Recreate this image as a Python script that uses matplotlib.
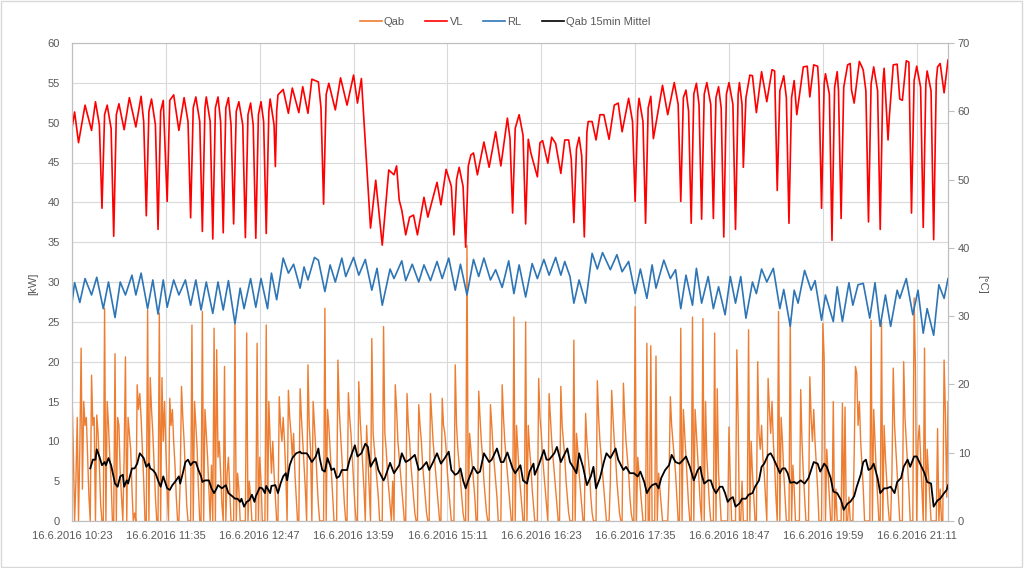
import numpy as np
import matplotlib
matplotlib.use('Agg')
from matplotlib import pyplot as plt
from matplotlib.lines import Line2D

plt.rcParams['font.family'] = ['Liberation Sans', 'DejaVu Sans']

# x = minutes after 16.6.2016 10:23
tick_min = [0, 72, 144, 216, 288, 360, 432, 504, 576, 648]
tick_labels = ['16.6.2016 10:23', '16.6.2016 11:35', '16.6.2016 12:47', '16.6.2016 13:59',
               '16.6.2016 15:11', '16.6.2016 16:23', '16.6.2016 17:35', '16.6.2016 18:47',
               '16.6.2016 19:59', '16.6.2016 21:11']

# Qab [kW], one value per minute
qab = [
    16.0, 9, 0, 5, 13, 0, 9, 21.7, 4, 15,
    12, 13, 8, 3, 0, 18.3, 12, 13, 0, 13.3,
    11, 7, 2, 0, 0, 26.7, 0, 15, 12, 8,
    5, 0, 0, 21.0, 0, 13, 12, 6, 3, 0,
    8, 20.6, 0, 13, 11, 9, 4, 0, 1, 0,
    17.1, 14, 16, 13, 9, 5, 0, 0, 26.5, 0,
    18, 14, 11, 7, 3, 0, 0, 26.1, 0, 18,
    10, 15, 9, 4, 0, 15.4, 12, 14, 10, 7,
    3, 0, 0, 5, 16.9, 13, 10, 6, 2, 0,
    0, 0, 24.6, 0, 15, 12, 9, 4, 0, 0,
    26.3, 0, 14, 11, 8, 4, 0, 7, 0, 24.2,
    0, 21.5, 8, 10, 6, 2, 0, 19.4, 0, 6,
    8, 4, 0, 0, 0, 24.8, 0, 6, 4, 0,
    0, 0, 0, 0, 23.6, 0, 5, 3, 0, 0,
    0, 0, 22.3, 0, 8, 5, 0, 0, 0, 24.6,
    0, 15, 10, 6, 10, 6, 3, 0, 0, 15.6,
    12, 10, 13, 10, 6, 0, 16.4, 13, 11, 8,
    11, 6, 3, 0, 0, 16.6, 13, 10, 7, 4,
    0, 19.6, 12, 9, 0, 15, 12, 9, 5, 2,
    0, 0, 0, 0, 26.7, 0, 14, 12, 9, 6,
    3, 0, 0, 0, 20.2, 14, 11, 8, 5, 2,
    0, 0, 16.1, 13, 11, 8, 5, 2, 0, 0,
    17.5, 13, 10, 7, 4, 0, 12, 8, 4, 0,
    22.9, 11, 9, 7, 5, 3, 0, 0, 0, 24.4,
    11, 9, 6, 4, 2, 0, 5, 0, 17.1, 14,
    10, 8, 6, 4, 2, 0, 0, 16.0, 12, 10,
    7, 5, 3, 1, 0, 0, 14.6, 12, 10, 7,
    5, 3, 1, 0, 0, 16.0, 13, 10, 8, 6,
    4, 2, 0, 0, 15.4, 12, 11, 9, 6, 4,
    2, 0, 0, 0, 19.6, 12, 9, 7, 5, 3,
    1, 0, 0, 34.6, 0, 11, 9, 7, 5, 3,
    0, 0, 16.3, 13, 10, 8, 5, 3, 1, 0,
    0, 14.6, 12, 9, 7, 5, 3, 0, 0, 0,
    17.1, 13, 10, 8, 6, 4, 2, 0, 0, 25.6,
    0, 12, 9, 6, 4, 2, 0, 0, 25.0, 0,
    12, 9, 7, 4, 2, 0, 0, 0, 17.9, 13,
    11, 8, 6, 4, 2, 0, 16.0, 13, 10, 8,
    6, 4, 2, 0, 0, 16.9, 12, 10, 8, 5,
    3, 1, 0, 0, 0, 22.7, 0, 11, 9, 6,
    4, 2, 0, 0, 13.5, 10, 8, 6, 3, 1,
    0, 0, 0, 17.6, 13, 10, 8, 6, 4, 2,
    0, 0, 0, 5, 16.4, 13, 10, 8, 5, 3,
    1, 0, 0, 17.3, 13, 10, 8, 6, 3, 1,
    0, 0, 26.9, 0, 8, 6, 4, 2, 0, 0,
    0, 22.3, 0, 0, 22.0, 0, 0, 0, 20.7, 0,
    6, 4, 2, 0, 0, 0, 0, 0, 5, 15.6,
    12, 10, 8, 6, 3, 0, 0, 24.2, 0, 14,
    11, 8, 5, 2, 0, 0, 25.6, 0, 14, 11,
    8, 5, 2, 0, 25.4, 0, 15, 8, 5, 2,
    0, 0, 0, 23.6, 0, 16.6, 6, 3, 0, 0,
    0, 0, 0, 0, 11.8, 5, 0, 0, 0, 0,
    21.5, 12.8, 0, 0, 5, 0, 0, 0, 0, 24.0,
    0, 10, 6, 3, 0, 0, 20.0, 11, 9, 12,
    8, 6, 3, 0, 17.9, 14, 11, 15, 10, 7,
    3, 0, 26.3, 0, 13, 10, 6, 3, 0, 0,
    0, 25.4, 0, 7, 4, 0, 0, 0, 0, 16.5,
    10, 6, 3, 0, 0, 0, 18.1, 13, 10, 14,
    10, 7, 4, 0, 0, 0, 24.8, 20.5, 0, 9,
    6, 3, 0, 0, 15, 0, 4, 0, 0, 0,
    0, 14.8, 0, 14.3, 0, 0, 3, 0, 0, 0,
    8, 19.4, 18.5, 12, 15, 10, 7, 4, 0, 0,
    0, 0, 0, 25.2, 0, 14, 10, 6, 3, 0,
    0, 25.0, 0, 12, 8, 5, 2, 0, 0, 6,
    19.2, 12, 9, 6, 3, 0, 0, 0, 20.0, 13,
    10, 7, 4, 0, 0, 0, 28.0, 19.4, 0, 10,
    12, 8, 4, 0, 21.7, 0, 9, 6, 3, 0,
    0, 0, 0, 0, 11.6, 0, 4, 0, 0, 20.2,
    13.5, 3, 15,
]

# VL [°C]
vl_min = [0, 2, 5, 10, 15, 18, 21, 23, 25, 27,
          30, 32, 34, 36, 40, 44, 49, 53, 55, 57,
          59, 61, 64, 66, 68, 70, 73, 75, 78, 82,
          86, 89, 91, 93, 95, 98, 100, 102, 103, 106,
          108, 110, 112, 114, 116, 118, 120, 122, 124, 126,
          128, 131, 133, 135, 137, 139, 141, 143, 145, 147,
          149, 151, 152, 155, 156, 157, 158, 162, 166, 169,
          174, 177, 181, 184, 189, 191, 193, 195, 197, 202,
          206, 211, 216, 219, 222, 229, 233, 238, 243, 247,
          249, 251, 253, 256, 259, 262, 265, 270, 273, 280,
          283, 287, 291, 293, 295, 297, 300, 302, 304, 306,
          308, 311, 316, 320, 325, 329, 334, 336, 338, 340,
          343, 346, 348, 350, 352, 357, 359, 361, 365, 368,
          371, 375, 378, 381, 383, 385, 387, 389, 391, 393,
          395, 396, 399, 402, 405, 408, 412, 416, 419, 422,
          427, 430, 432, 434, 435, 438, 440, 442, 444, 446,
          453, 457, 462, 465, 467, 469, 471, 473, 475, 477,
          479, 481, 483, 485, 487, 490, 492, 494, 496, 498,
          500, 502, 504, 507, 509, 511, 512, 514, 515, 517,
          520, 522, 525, 529, 533, 537, 539, 541, 543, 546,
          548, 550, 552, 554, 556, 561, 564, 566, 569, 572,
          573, 575, 577, 578, 581, 583, 585, 587, 588, 590,
          592, 595, 597, 598, 600, 604, 606, 607, 609, 611,
          613, 615, 618, 620, 622, 623, 626, 627, 630, 633,
          635, 637, 640, 642, 644, 646, 648, 651, 653, 655,
          656, 659, 661, 663, 664, 666, 669, 672]
vl_temp = [57.5, 59.9, 55.4, 60.9, 57.2, 61.4, 58.0, 45.8, 59.5, 60.9,
           57.5, 41.7, 59.5, 61.1, 57.3, 62.0, 57.7, 62.2, 58.5, 44.7,
           60.0, 61.8, 58.0, 42.7, 60.0, 61.6, 46.8, 61.6, 62.4, 57.2,
           62.0, 58.5, 44.4, 60.5, 62.1, 58.5, 42.4, 60.5, 62.1, 58.5,
           41.3, 60.5, 62.1, 58.5, 42.2, 60.5, 62.0, 58.0, 43.5, 60.0,
           61.4, 58.0, 41.5, 59.5, 61.2, 58.0, 41.4, 59.5, 61.4, 58.5,
           42.1, 60.0, 61.8, 58.0, 51.9, 60.0, 62.4, 63.2, 59.7, 63.4,
           59.8, 63.6, 59.7, 64.7, 64.3, 60.5, 46.4, 62.5, 64.1, 60.2,
           64.9, 60.9, 65.3, 61.2, 64.8, 42.9, 49.9, 40.4, 51.4, 50.7,
           52.0, 47.0, 45.5, 41.9, 44.5, 44.8, 41.9, 47.4, 44.5, 49.6,
           46.3, 51.5, 49.0, 41.9, 50.0, 51.8, 49.0, 40.1, 52.0, 53.6,
           53.9, 50.7, 55.5, 51.8, 57.0, 52.0, 59.0, 56.0, 45.1, 57.5,
           59.5, 56.5, 43.5, 55.9, 53.9, 50.4, 55.4, 55.7, 52.4, 56.2,
           55.3, 50.9, 55.8, 55.8, 53.0, 43.7, 54.5, 56.2, 53.5, 41.6,
           57.0, 58.5, 58.5, 55.8, 59.5, 59.5, 55.9, 60.9, 61.2, 57.0,
           61.9, 58.5, 46.8, 60.0, 61.9, 58.5, 43.6, 60.5, 62.2, 56.0,
           63.8, 59.5, 64.2, 61.0, 46.8, 62.0, 63.1, 60.0, 43.6, 62.5,
           64.1, 61.0, 44.2, 62.5, 64.2, 61.0, 44.3, 62.0, 63.6, 60.5,
           41.6, 62.5, 64.2, 61.0, 42.7, 62.5, 64.2, 61.0, 51.8, 62.0,
           65.3, 65.2, 59.8, 65.8, 61.4, 66.1, 65.9, 48.4, 63.0, 65.2,
           62.0, 43.6, 62.0, 64.5, 59.5, 66.5, 66.6, 62.1, 66.8, 66.6,
           63.5, 45.8, 64.0, 65.5, 62.5, 41.1, 63.5, 65.8, 63.0, 44.3,
           63.5, 66.8, 67.0, 63.1, 61.2, 67.3, 66.5, 66.0, 63.0, 43.8,
           64.0, 66.5, 63.0, 42.7, 64.0, 66.3, 55.8, 59.2, 66.8, 66.9,
           61.8, 61.6, 67.4, 67.2, 45.1, 64.5, 66.6, 63.5, 43.0, 64.0,
           65.9, 63.0, 41.2, 64.5, 66.5, 67.0, 62.7, 67.5]

# RL [°C]
rl_min = [0, 2, 6, 10, 15, 19, 24, 28, 33, 37, 41, 46, 49, 53, 58, 62, 66, 70, 73, 78,
          82, 87, 91, 95, 99, 103, 108, 112, 116, 120, 125, 129, 132, 137, 141, 145, 150, 153, 157, 162,
          166, 170, 175, 178, 181, 186, 189, 194, 198, 202, 207, 210, 216, 220, 225, 230, 234, 238, 244, 247,
          253, 256, 261, 266, 270, 275, 280, 284, 289, 294, 298, 303, 308, 312, 316, 321, 325, 330, 335, 339,
          343, 348, 353, 357, 362, 366, 371, 375, 378, 382, 385, 389, 394, 399, 403, 407, 413, 418, 422, 427,
          432, 436, 441, 445, 448, 454, 459, 463, 467, 471, 476, 479, 483, 488, 492, 496, 501, 505, 509, 513,
          517, 522, 525, 529, 533, 538, 543, 546, 551, 554, 557, 562, 567, 570, 575, 578, 584, 587, 591, 596,
          599, 603, 607, 612, 616, 620, 624, 628, 633, 635, 640, 645, 649, 653, 656, 661, 665, 669, 672]
rl_temp = [31.9, 34.9, 32.0, 35.5, 33.1, 35.7, 31.1, 35.0, 29.8, 35.0, 33.1, 36.0, 33.1, 36.3, 31.1, 35.3, 30.3, 35.3, 31.3, 35.3,
           33.1, 35.3, 31.6, 35.3, 30.9, 35.0, 30.4, 35.0, 30.9, 35.2, 28.9, 34.1, 31.1, 35.5, 31.3, 35.5, 31.1, 36.3, 32.4, 38.5,
           36.3, 37.6, 34.1, 37.2, 35.3, 38.6, 38.2, 33.6, 37.5, 35.0, 38.5, 35.8, 38.6, 36.0, 38.3, 33.8, 37.0, 31.6, 36.9, 35.5,
           38.1, 35.2, 37.6, 35.0, 37.5, 35.2, 38.0, 35.5, 38.5, 33.8, 37.6, 33.1, 38.3, 35.8, 38.5, 35.3, 36.8, 34.2, 38.1, 33.3,
           37.5, 32.8, 37.7, 35.5, 38.3, 36.0, 38.6, 36.0, 38.0, 35.8, 31.9, 35.3, 31.9, 39.2, 36.9, 39.3, 36.8, 39.0, 36.5, 38.0,
           33.3, 36.9, 32.6, 37.5, 34.1, 38.2, 35.5, 36.8, 31.1, 36.0, 31.6, 37.0, 31.9, 35.8, 31.1, 34.3, 30.2, 35.8, 31.9, 35.8,
           29.7, 35.0, 33.3, 36.9, 35.0, 37.0, 31.1, 33.9, 28.5, 33.8, 31.9, 36.7, 33.8, 35.2, 29.4, 33.1, 29.2, 34.3, 29.2, 34.9,
           31.6, 34.6, 34.8, 29.7, 34.9, 28.5, 33.1, 28.5, 33.8, 32.6, 35.5, 30.2, 33.8, 27.5, 31.1, 27.2, 34.6, 32.6, 35.5]

# Qab 15min Mittel [kW]
avg_min = [14, 16, 18, 19, 21, 23, 25, 26, 28, 30, 33, 35, 37, 39, 40, 42, 43, 46, 48, 50,
           52, 55, 57, 59, 60, 62, 64, 66, 68, 70, 71, 73, 75, 77, 79, 82, 83, 85, 87, 89,
           91, 93, 95, 97, 99, 100, 102, 105, 107, 109, 111, 112, 115, 118, 120, 123, 125, 127, 129, 130,
           132, 134, 136, 138, 140, 141, 144, 146, 148, 149, 152, 153, 156, 158, 160, 162, 164, 165, 167, 169,
           172, 175, 176, 180, 181, 184, 187, 189, 190, 192, 194, 196, 198, 199, 201, 203, 205, 207, 211, 213,
           217, 219, 222, 225, 227, 229, 231, 233, 235, 239, 240, 244, 247, 251, 253, 256, 259, 263, 266, 268,
           272, 274, 277, 280, 283, 286, 289, 291, 294, 296, 298, 300, 302, 304, 308, 311, 313, 316, 320, 322,
           326, 329, 331, 334, 338, 340, 344, 346, 349, 351, 354, 355, 358, 362, 364, 366, 370, 372, 375, 377,
           380, 382, 385, 387, 389, 392, 395, 398, 400, 402, 405, 408, 410, 413, 417, 419, 423, 425, 428, 431,
           434, 436, 439, 441, 443, 445, 448, 450, 452, 455, 458, 460, 463, 466, 469, 471, 474, 477, 480, 482,
           483, 485, 488, 490, 492, 494, 497, 499, 501, 503, 505, 507, 509, 512, 514, 517, 519, 522, 524, 527,
           529, 531, 534, 536, 538, 541, 543, 545, 547, 549, 551, 554, 556, 559, 562, 565, 567, 569, 572, 574,
           577, 579, 582, 584, 587, 590, 592, 595, 597, 600, 602, 605, 607, 609, 611, 613, 615, 618, 620, 623,
           625, 628, 631, 633, 636, 638, 641, 643, 646, 648, 650, 654, 656, 659, 661, 664, 666, 669, 671, 672]
avg_kw = [6.6, 7.7, 7.7, 9.0, 8.1, 7.0, 7.4, 7.0, 7.9, 7.0, 4.7, 4.3, 5.6, 5.8, 4.3, 5.1, 4.7, 6.6, 6.6, 7.2,
          8.5, 7.9, 6.8, 7.2, 6.6, 6.4, 6.0, 5.1, 4.3, 5.6, 5.1, 4.1, 3.9, 4.5, 4.9, 5.6, 4.7, 6.0, 7.4, 7.7,
          7.0, 7.4, 7.4, 6.4, 5.6, 4.9, 5.1, 5.1, 4.1, 3.5, 4.1, 4.5, 4.1, 4.5, 3.5, 3.1, 2.8, 2.8, 2.4, 2.8,
          1.8, 2.4, 2.6, 3.3, 2.4, 3.1, 4.2, 4.1, 3.5, 4.4, 3.5, 4.4, 4.5, 3.5, 4.7, 5.6, 6.0, 5.1, 7.0, 7.9,
          8.5, 8.7, 8.5, 8.5, 8.3, 7.4, 8.1, 9.1, 7.9, 6.4, 6.2, 7.9, 7.0, 6.4, 6.6, 5.4, 5.6, 6.4, 6.4, 7.7,
          9.5, 8.1, 8.5, 9.7, 9.3, 6.8, 7.4, 7.9, 6.4, 5.1, 5.4, 7.3, 6.0, 7.0, 8.5, 7.4, 7.7, 8.3, 6.4, 6.6,
          7.4, 6.4, 7.4, 8.5, 7.2, 7.9, 8.7, 6.4, 5.8, 6.0, 6.6, 5.1, 4.1, 5.1, 6.8, 6.0, 6.2, 8.5, 7.4, 7.7,
          9.1, 7.4, 7.4, 8.6, 6.6, 6.0, 7.0, 5.1, 4.7, 6.2, 7.2, 5.8, 7.0, 8.9, 7.7, 7.7, 8.5, 9.3, 7.4, 8.1,
          9.1, 7.4, 6.6, 6.0, 8.5, 6.8, 4.5, 5.6, 6.8, 4.1, 5.4, 7.4, 8.5, 7.9, 9.1, 7.7, 6.4, 6.8, 6.0, 6.0,
          5.6, 6.2, 4.9, 3.5, 4.1, 4.5, 4.7, 4.1, 5.4, 6.4, 7.0, 8.3, 7.4, 7.2, 7.7, 8.1, 6.8, 5.1, 6.4, 6.8,
          5.8, 4.7, 5.1, 5.1, 4.1, 3.5, 4.3, 4.3, 3.5, 2.4, 2.8, 3.0, 1.8, 2.2, 2.8, 2.8, 3.3, 3.5, 4.3, 5.1,
          6.8, 7.2, 8.3, 8.5, 7.9, 6.8, 6.0, 6.6, 6.6, 6.0, 4.8, 4.9, 4.7, 5.1, 4.7, 5.4, 6.4, 7.4, 7.2, 6.2,
          7.2, 6.8, 5.4, 3.7, 3.5, 2.6, 1.4, 2.2, 2.4, 3.1, 4.3, 5.8, 7.4, 7.7, 6.4, 6.6, 7.2, 5.4, 3.5, 4.1,
          4.1, 4.3, 3.5, 4.9, 5.4, 6.8, 7.7, 6.8, 8.1, 8.1, 7.4, 6.0, 4.9, 4.7, 1.8, 2.6, 2.8, 3.5, 3.9, 4.5]

txt = '#595959'
grid_col = '#d9d9d9'

fig = plt.figure(figsize=(10.24, 5.68), dpi=100)
ax = fig.add_axes([72 / 1024, 47 / 568, 876 / 1024, 478 / 568])
ax2 = ax.twinx()

ax.plot(np.arange(len(qab)), qab, color='#ED7D31', lw=1.0)
ax.plot(avg_min, avg_kw, color='black', lw=1.3)
ax2.plot(vl_min, vl_temp, color='#FF0000', lw=1.2)
ax2.plot(rl_min, rl_temp, color='#2E75B6', lw=1.2)

ax.set_xlim(0, 672)
ax.set_ylim(0, 60)
ax2.set_ylim(0, 70)
ax.set_yticks(range(0, 61, 5))
ax2.set_yticks(range(0, 71, 10))
ax.set_xticks(tick_min)
ax.set_xticklabels(tick_labels)

ax.grid(True, color=grid_col, lw=0.8)
ax.set_axisbelow(True)
for a in (ax, ax2):
    for s in a.spines.values():
        s.set_color('#bfbfbf')
        s.set_linewidth(0.8)
ax.spines['top'].set_color(grid_col)

ax.tick_params(axis='both', length=0, labelsize=8, labelcolor=txt)
ax.tick_params(axis='y', pad=9)
ax.tick_params(axis='x', pad=7)
ax2.tick_params(axis='y', length=4, color='#bfbfbf', labelsize=8, labelcolor=txt, pad=3)

fig.text(33 / 1024, 1 - 284 / 568, '[kW]', rotation=90, ha='center', va='center', fontsize=8, color=txt)
fig.text(982 / 1024, 1 - 284 / 568, '[°C]', rotation=270, ha='center', va='center', fontsize=8, color=txt)

handles = [Line2D([], [], color='#ED7D31', lw=1.2), Line2D([], [], color='#FF0000', lw=1.2),
           Line2D([], [], color='#2E75B6', lw=1.2), Line2D([], [], color='black', lw=1.2)]
leg = fig.legend(handles, ['Qab', 'VL', 'RL', 'Qab 15min Mittel'], loc='center',
                 bbox_to_anchor=(505 / 1024, 1 - 22 / 568), ncol=4, frameon=False,
                 fontsize=8, handlelength=2.0, handletextpad=0.2, columnspacing=1.8)
for t in leg.get_texts():
    t.set_color(txt)

fig.patches.append(plt.Rectangle((0.001, 0.002), 0.997, 0.996, transform=fig.transFigure,
                                 fill=False, edgecolor=grid_col, lw=1))

fig.savefig('out.png', dpi=100)
